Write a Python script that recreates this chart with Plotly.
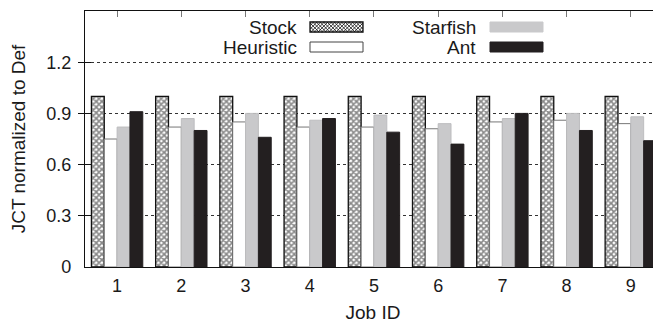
import plotly.graph_objects as go

jobs = [1, 2, 3, 4, 5, 6, 7, 8, 9]
job_labels = ["1", "2", "3", "4", "5", "6", "7", "8", "9"]
stock = [1.0, 1.0, 1.0, 1.0, 1.0, 1.0, 1.0, 1.0, 1.0]
heuristic = [0.75, 0.82, 0.85, 0.82, 0.82, 0.81, 0.85, 0.86, 0.84]
starfish = [0.82, 0.87, 0.90, 0.86, 0.89, 0.84, 0.87, 0.90, 0.88]
ant = [0.91, 0.80, 0.76, 0.87, 0.79, 0.72, 0.90, 0.80, 0.74]
y_ticks = [0, 0.3, 0.6, 0.9, 1.2]
y_tick_labels = ["0", "0.3", "0.6", "0.9", "1.2"]

FONT = "Liberation Sans, Arial, Helvetica, sans-serif"
TXT = "#1a1a1a"
OFF = 8  # default page body margin
W, H = 661 - OFF, 323 - OFF
ML, MR, MT, MB = 85 - OFF, 0, 11 - OFF, 56
PW, PH = W - ML - MR, H - MT - MB

fig = go.Figure()
fig.add_trace(go.Bar(
    x=jobs, y=stock, name="Stock",
    marker=dict(color="white",
                pattern=dict(shape="x", fgcolor="#111111", bgcolor="white",
                             size=4, solidity=0.65),
                line=dict(color="#111111", width=1.3))))
fig.add_trace(go.Bar(
    x=jobs, y=heuristic, name="Heuristic",
    marker=dict(color="white", line=dict(color="#777777", width=1))))
fig.add_trace(go.Bar(
    x=jobs, y=starfish, name="Starfish",
    marker=dict(color="#c9c9cb", line=dict(color="#bdbdbf", width=1))))
fig.add_trace(go.Bar(
    x=jobs, y=ant, name="Ant",
    marker=dict(color="#231f20", line=dict(color="#231f20", width=1))))


def px2paper(x, y):
    # x, y: page pixel coordinates
    return (x - OFF - ML) / PW, (MT + PH - (y - OFF)) / PH


def hatch_path(x0, x1, y0, y1, step):
    segs = []
    c = (y0 - x1)
    while c <= y1 - x0:
        xa, xb = max(x0, y0 - c), min(x1, y1 - c)
        if xb > xa:
            p, q = px2paper(xa, xa + c), px2paper(xb, xb + c)
            segs.append(f"M{p[0]:.5f},{p[1]:.5f}L{q[0]:.5f},{q[1]:.5f}")
        c += step
    c = x0 + y0
    while c <= x1 + y1:
        xa, xb = max(x0, c - y1), min(x1, c - y0)
        if xb > xa:
            p, q = px2paper(xa, c - xa), px2paper(xb, c - xb)
            segs.append(f"M{p[0]:.5f},{p[1]:.5f}L{q[0]:.5f},{q[1]:.5f}")
        c += step
    return "".join(segs)


shapes = []
annotations = []
legend_items = [
    ("Stock", 299, 310, 363, 22, 32, None),
    ("Heuristic", 299, 310, 363, 42, 52, "white"),
    ("Starfish", 478, 490, 543, 22, 32, "#c9c9cb"),
    ("Ant", 478, 490, 543, 42, 52, "#231f20"),
]
for name, tx, sx0, sx1, sy0, sy1, col in legend_items:
    a = px2paper(sx0, sy1)
    b = px2paper(sx1, sy0)
    if name == "Stock":
        shapes.append(dict(type="rect", xref="paper", yref="paper",
                           x0=a[0], y0=a[1], x1=b[0], y1=b[1],
                           fillcolor="white", line=dict(width=0)))
        shapes.append(dict(type="path", xref="paper", yref="paper",
                           path=hatch_path(sx0, sx1, sy0, sy1, 3.6),
                           line=dict(color="#111111", width=0.8)))
        shapes.append(dict(type="rect", xref="paper", yref="paper",
                           x0=a[0], y0=a[1], x1=b[0], y1=b[1],
                           line=dict(color="#111111", width=1.3)))
    elif name == "Heuristic":
        shapes.append(dict(type="rect", xref="paper", yref="paper",
                           x0=a[0], y0=a[1], x1=b[0], y1=b[1],
                           fillcolor=col, line=dict(color="#444444", width=1)))
    else:
        shapes.append(dict(type="rect", xref="paper", yref="paper",
                           x0=a[0], y0=a[1], x1=b[0], y1=b[1],
                           fillcolor=col, line=dict(color=col, width=1)))
    t = px2paper(tx, (sy0 + sy1) / 2)
    annotations.append(dict(x=t[0], y=t[1], xref="paper", yref="paper",
                            text=name, showarrow=False, xanchor="right",
                            yanchor="middle",
                            font=dict(family=FONT, size=19, color=TXT)))

fig.update_layout(
    width=W, height=H,
    margin=dict(l=ML, r=MR, t=MT, b=MB, autoexpand=False),
    paper_bgcolor="white", plot_bgcolor="white",
    barmode="group", bargap=0.2, bargroupgap=0,
    showlegend=False,
    shapes=shapes, annotations=annotations,
    font=dict(family=FONT, size=18, color=TXT),
    xaxis=dict(range=[0.5, 9.47], tickvals=jobs, ticktext=job_labels,
               ticks="", showgrid=False, showline=True, linecolor="#111111",
               linewidth=1.3, mirror=True, zeroline=False, automargin=False,
               tickfont=dict(family=FONT, size=18, color=TXT),
               ticklabelstandoff=2,
               title=dict(text="Job ID", font=dict(family=FONT, size=19, color=TXT),
                          standoff=16)),
    xaxis2=dict(range=[0.5, 9.47], overlaying="x", side="top",
                tickvals=jobs, ticks="inside", ticklen=6, tickcolor="#777777",
                showticklabels=False, showgrid=False, showline=False,
                zeroline=False, automargin=False),
    yaxis=dict(range=[0, 1.5], tickvals=y_ticks, ticktext=y_tick_labels,
               ticks="inside", ticklen=6, tickcolor="#111111",
               showgrid=True, gridcolor="#333333", griddash="dot", gridwidth=1,
               showline=True, linecolor="#111111", linewidth=1.3,
               mirror="allticks", zeroline=False, automargin=False,
               tickfont=dict(family=FONT, size=18, color=TXT),
               ticklabelstandoff=9,
               title=dict(text="JCT normalized to Def",
                          font=dict(family=FONT, size=19, color=TXT),
                          standoff=18)),
)
fig.add_trace(go.Scatter(x=[], y=[], xaxis="x2", showlegend=False,
                         hoverinfo="skip"))

fig.write_html("out.html")
